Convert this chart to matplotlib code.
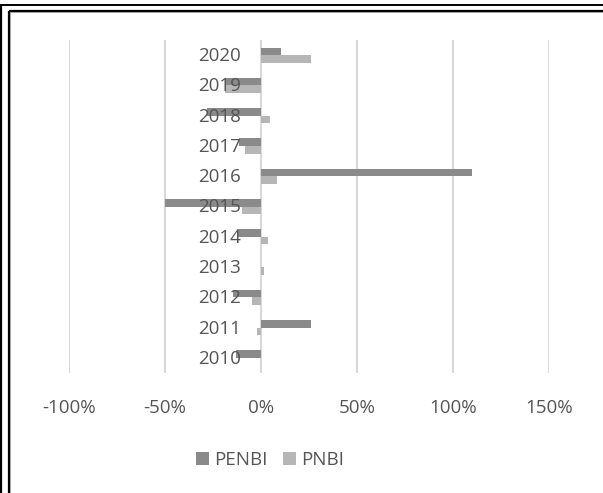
import matplotlib
matplotlib.use("Agg")
import matplotlib.pyplot as plt
from matplotlib.lines import Line2D
from matplotlib.ticker import FuncFormatter
from matplotlib.transforms import blended_transform_factory, offset_copy
import numpy as np

years = ["2010", "2011", "2012", "2013", "2014", "2015", "2016", "2017", "2018", "2019", "2020"]
penbi = [-0.13, 0.26, -0.145, 0.0, -0.125, -0.50, 1.10, -0.115, -0.28, -0.18, 0.105]
pnbi = [0.0, -0.02, -0.048, 0.016, 0.035, -0.10, 0.083, -0.083, 0.047, -0.19, 0.26]
xticks = [-1.0, -0.5, 0.0, 0.5, 1.0, 1.5]

W, H = 603, 493
fig = plt.figure(figsize=(W / 100, H / 100), dpi=100)
plt.rcParams['font.family'] = ['Open Sans', 'DejaVu Sans']
FS = 13.5

L, R, T, B = 69, 549, 40, 373
ax = fig.add_axes([L / W, 1 - B / H, (R - L) / W, (B - T) / H])

dark = "#8a8a8a"
light = "#b6b6b6"
txt = "#555555"
y = np.arange(len(years))
h = 0.25
ax.barh(y + h / 2, penbi, height=h, color=dark, label="PENBI", zorder=2)
ax.barh(y - h / 2, pnbi, height=h, color=light, label="PNBI", zorder=2)

ax.set_xlim(-1.0, 1.5)
ax.set_ylim(-0.5, len(years) - 0.5)
ax.set_xticks(xticks)
ax.xaxis.set_major_formatter(FuncFormatter(lambda v, p: f"{v * 100:.0f}%"))
ax.grid(axis="x", color="#d9d9d9", linewidth=1.5, zorder=0)
ax.set_axisbelow(True)
for s in ax.spines.values():
    s.set_visible(False)
ax.set_yticks([])
ax.tick_params(axis="x", length=0, pad=19, labelsize=FS, labelcolor=txt)

trans = offset_copy(blended_transform_factory(ax.transData, ax.transData),
                    fig=fig, x=-20, y=-1, units="dots")
for yi, lab in zip(y, years):
    ax.text(0, yi, lab, transform=trans, ha="right", va="center",
            fontsize=FS, color=txt, zorder=5)

leg = fig.legend(loc="center", bbox_to_anchor=(270 / W, 1 - 460 / H), ncol=2,
                 frameon=False, fontsize=FS, handlelength=0.7, handleheight=0.7,
                 handletextpad=0.28, columnspacing=0.85, labelcolor=txt)

# frame lines
def fl(x0, y0, x1, y1, lw, c="black"):
    fig.add_artist(Line2D([x0 / W, x1 / W], [1 - y0 / H, 1 - y1 / H],
                          transform=fig.transFigure, color=c, linewidth=lw,
                          solid_capstyle="butt"))

fl(0, 4.8, W, 4.8, 1.4)
fl(1.2, 4.8, 1.2, H, 1.6)
fl(9.5, 12.2, W, 12.2, 1.2, "#aaaaaa")
fl(10.2, 11.5, 10.2, H, 1.2, "#aaaaaa")
fl(8.5, 10.8, W, 10.8, 1.6)
fl(8.6, 10.8, 8.6, H, 1.6)

fig.savefig("out.png", dpi=100)
